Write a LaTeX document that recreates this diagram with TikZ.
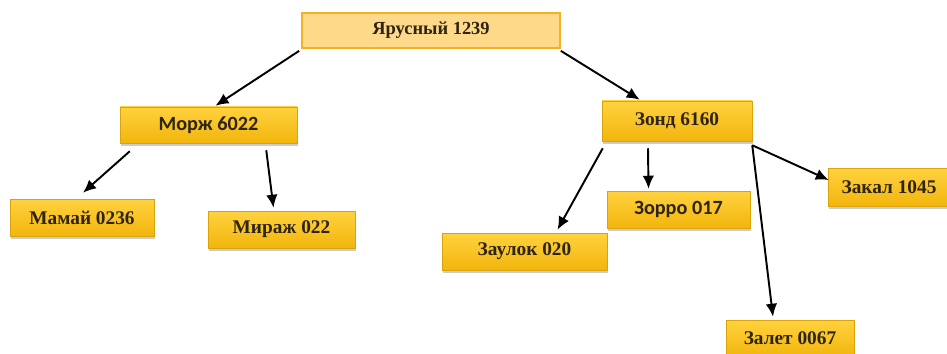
\documentclass[tikz,border=0pt]{standalone}
\usepackage{fontspec}
\setmainfont{Liberation Serif}
\newfontfamily\calibri{Carlito}
\usetikzlibrary{arrows.meta,shadows}

\definecolor{boxtop}{HTML}{FFD23F}
\definecolor{boxbot}{HTML}{F2B50C}
\definecolor{rootfill}{HTML}{FFD98A}
\definecolor{rootline}{HTML}{F3B224}
\definecolor{labeltext}{HTML}{2E2410}

\tikzset{
    leaf/.style={rectangle, top color=boxtop, bottom color=boxbot, draw=boxbot!90!black, line width=0.3pt,
        minimum height=0.74cm, inner sep=2pt, text=labeltext,
        font=\fontsize{11}{13}\selectfont\bfseries,
        drop shadow={shadow xshift=0.8pt, shadow yshift=-1.6pt, opacity=0.4}},
    root/.style={rectangle, fill=rootfill, draw=rootline, line width=1pt,
        minimum height=0.7cm, text=labeltext,
        font=\fontsize{10.5}{13}\selectfont\bfseries},
    link/.style={-{Latex[length=2.6mm,width=2.3mm]}, line width=1.1pt, black},
}

\begin{document}
\begin{tikzpicture}[x=0.02cm, y=-0.02cm]
    \useasboundingbox (0,0) rectangle (947,354);
    % root of the tree
    \node (yarus) [root, minimum width=5.16cm] at (431,30.5) {Ярусный 1239};
    % left branch
    \node (morzh) [leaf, minimum width=3.54cm, minimum height=0.72cm, font=\calibri\fontsize{11.5}{13}\selectfont\bfseries] at (208.5,125) {Морж 6022};
    \node (mamai) [leaf, minimum width=2.88cm] at (82,217.5) {Мамай 0236};
    \node (mirazh) [leaf, minimum width=2.94cm] at (281.5,229.5) {Мираж 022};
    % right branch
    \node (zond) [leaf, minimum width=3.0cm, minimum height=0.8cm] at (677,121) {Зонд 6160};
    \node (zaulok) [leaf, minimum width=3.3cm] at (524.5,251.5) {Заулок 020};
    \node (zorro) [leaf, minimum width=2.86cm, font=\calibri\fontsize{11.5}{13}\selectfont\bfseries] at (678.5,209.5) {Зорро 017};
    \node (zakal) [leaf, minimum width=2.44cm, minimum height=0.76cm] at (889,187) {Закал 1045};
    \node (zalet) [leaf, minimum width=2.56cm] at (790,338.5) {Залет 0067};

    % connectors
    \draw[link] ([shift={(-2,2)}]yarus.south west) -- ([shift={(7,-1)}]morzh.north);
    \draw[link] ([shift={(0,2)}]yarus.south east) -- ([shift={(38,-1)}]zond.north west);
    \draw[link] ([shift={(10,8)}]morzh.south west) -- ([shift={(1,-6)}]mamai.north);
    \draw[link] ([shift={(-31,7)}]morzh.south east) -- ([shift={(-8,-3)}]mirazh.north);
    \draw[link] ([shift={(1,7)}]zond.south west) -- ([shift={(33,-3)}]zaulok.north);
    \draw[link] ([shift={(-29,7)}]zond.south) -- ([shift={(-30,-2)}]zorro.north);
    \draw[link] ([shift={(0,4)}]zond.south east) -- ([shift={(1,-7)}]zakal.west);
    \draw[link] ([shift={(0,4)}]zond.south east) -- ([shift={(-17,-3)}]zalet.north);
\end{tikzpicture}
\end{document}
